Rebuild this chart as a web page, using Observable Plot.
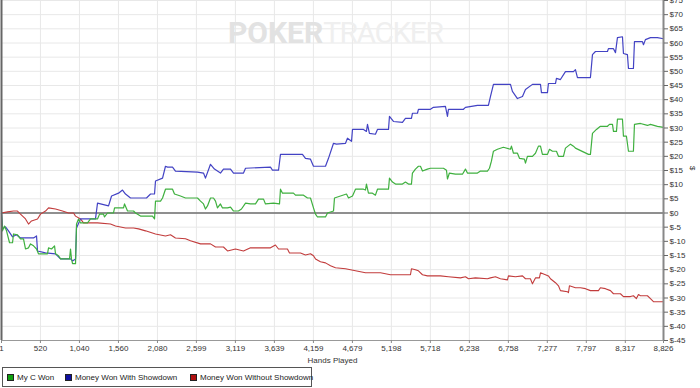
<!DOCTYPE html>
<html>
<head>
<meta charset="utf-8">
<script src="https://cdn.jsdelivr.net/npm/d3@7"></script>
<script src="https://cdn.jsdelivr.net/npm/@observablehq/plot@0.6"></script>
<style>
  html, body { margin: 0; padding: 0; background: white; }
  #wrap { position: relative; width: 700px; height: 388px; overflow: hidden; font-family: "Liberation Sans", Arial, sans-serif; }
  #chart { position: absolute; left: 0; top: 0; }
  #wm { position: absolute; left: 228px; top: 18px; font-family: Roboto, sans-serif; font-size: 30px; line-height: 30px; white-space: nowrap; }
  #wm .a { color: #e2e2e2; font-weight: bold; }
  #wm .b { color: #efefef; letter-spacing: -1.5px; }
  #legend { position: absolute; left: 2px; top: 367px; width: 308px; height: 18px; border: 1px solid #555; background: white; font-size: 8px; color: #222; }
  #legend .it { position: absolute; top: 5px; white-space: nowrap; line-height: 9px; }
  #legend .sw { display: inline-block; width: 5px; height: 5px; border: 1px solid #222; margin-right: 3px; vertical-align: -1px; }
</style>
</head>
<body>
<div id="wrap">
  <div id="chart"></div>
  <div id="wm"><span class="a">POKER</span><span class="b">TRACKER</span></div>
  <div id="legend"></div>
</div>
<script>
// Hands played tick labels (x axis)
const handTicks = [1, 520, 1040, 1560, 2080, 2599, 3119, 3639, 4159, 4679, 5198, 5718, 6238, 6758, 7277, 7797, 8317, 8826];
// Dollar ticks (right axis)
const dollarTicks = [-45, -40, -35, -30, -25, -20, -15, -10, -5, 0, 5, 10, 15, 20, 25, 30, 35, 40, 45, 50, 55, 60, 65, 70, 75];

const seriesNames = ["My C Won", "Money Won With Showdown", "Money Won Without Showdown"];
const seriesColors = ["#3fb03f", "#4343c4", "#c23c3c"];
const legendColors = ["#10a010", "#1010a0", "#b01010"];

// [hand, $]
const myCWon = [[1,0],[14,-6.3],[41,-4.6],[68,-6.3],[108,-10.5],[148,-10.5],[161,-7.4],[214,-7.7],[254,-9.1],[294,-9.1],[321,-12.7],[361,-12.3],[388,-10.9],[428,-11.6],[468,-12.7],[494,-14.4],[614,-14.4],[628,-12.3],[668,-12.7],[708,-11.6],[721,-14.4],[761,-15.1],[788,-16.2],[908,-16.2],[921,-12.7],[934,-16.2],[948,-17.9],[988,-17.9],[1001,-3.9],[1028,-2.1],[1054,-3.5],[1148,-3.5],[1188,-2.1],[1281,-2.1],[1308,-0.4],[1361,-0.4],[1374,-1.4],[1414,0],[1494,0],[1508,1.8],[1628,1.8],[1641,3.2],[1681,0.7],[1761,0.7],[1788,0],[1854,-1.1],[2014,-1.1],[2041,-2.1],[2054,4.2],[2121,4.2],[2148,5.3],[2187,8.4],[2281,8.4],[2307,6.7],[2387,6.0],[2454,5.3],[2614,5.3],[2654,4.2],[2694,3.2],[2720,1.4],[2747,2.5],[2787,5.3],[2827,5.3],[2854,4.2],[2880,1.8],[2920,3.2],[2947,1.8],[3014,1.8],[3054,2.1],[3094,0.7],[3160,0.7],[3200,1.4],[3254,3.5],[3320,3.2],[3387,3.2],[3427,4.9],[3494,4.9],[3520,3.2],[3627,3.5],[3707,3.2],[3720,8.4],[3747,7.0],[3893,7.0],[3920,6.3],[4027,6.3],[4080,5.3],[4120,5.3],[4160,1.8],[4187,-0.4],[4213,-1.4],[4320,-1.4],[4347,0],[4427,0.7],[4440,5.3],[4520,6.0],[4600,6.7],[4627,5.3],[4680,6.0],[4720,8.4],[4827,8.4],[4853,8.1],[4866,10.2],[4893,7.0],[4946,7.0],[4986,6.3],[5013,8.4],[5160,8.4],[5173,12.3],[5213,10.9],[5253,10.2],[5346,10.2],[5386,10.9],[5426,10.2],[5466,10.2],[5479,14.1],[5519,15.5],[5559,16.5],[5586,16.5],[5613,14.8],[5679,15.5],[5719,15.8],[5893,15.8],[5933,15.1],[5946,12.0],[5972,14.1],[6052,13.7],[6146,13.7],[6186,15.5],[6212,14.1],[6346,14.1],[6386,14.8],[6479,14.8],[6506,15.8],[6532,18.3],[6559,21.8],[6612,22.5],[6692,23.2],[6786,22.5],[6799,23.6],[6826,21.1],[6879,21.1],[6906,19.3],[6972,19.0],[6986,17.6],[7012,20.0],[7079,20.0],[7119,21.1],[7159,23.6],[7186,23.6],[7212,20.7],[7279,20.7],[7306,22.5],[7346,21.8],[7399,21.8],[7426,20.0],[7492,20.0],[7519,22.9],[7586,24.3],[7626,23.6],[7652,22.9],[7826,20.7],[7852,20.7],[7879,28.1],[7932,29.5],[7985,30.6],[8079,30.6],[8106,31.3],[8146,31.3],[8159,28.8],[8199,28.8],[8212,33.1],[8279,33.1],[8292,27.1],[8332,27.1],[8359,21.8],[8425,21.8],[8439,31.3],[8519,31.6],[8612,30.9],[8652,31.3],[8745,30.6],[8826,30.2]];

const wonWithShowdown = [[1,0],[14,-5.6],[54,-4.9],[94,-6.3],[148,-8.4],[201,-7.7],[254,-8.8],[428,-8.8],[468,-8.1],[481,-13.4],[588,-14.1],[721,-14.4],[788,-16.2],[921,-16.2],[948,-16.9],[988,-16.2],[1001,-5.3],[1054,-2.1],[1254,-2.1],[1281,3.5],[1428,2.5],[1468,6.0],[1561,7.0],[1614,8.1],[1654,6.7],[1721,5.3],[1934,5.3],[1988,6.7],[2041,6.7],[2054,11.3],[2148,12.3],[2187,16.5],[2214,16.2],[2281,16.2],[2320,14.8],[2614,14.4],[2694,14.1],[2720,12.3],[2787,17.2],[2840,15.5],[2920,14.1],[2960,15.5],[3054,15.5],[3094,14.1],[3227,14.1],[3254,15.8],[3587,16.2],[3614,15.1],[3694,15.1],[3720,20.7],[4013,20.7],[4053,19.3],[4120,19.0],[4160,16.5],[4320,16.5],[4360,19.3],[4427,24.6],[4467,24.3],[4587,24.6],[4613,26.4],[4667,25.3],[4680,29.5],[4827,29.5],[4866,28.8],[4880,31.3],[4906,28.1],[4986,27.8],[5013,29.5],[5160,29.5],[5173,34.1],[5226,32.3],[5346,32.0],[5386,33.4],[5466,33.4],[5479,35.2],[5546,35.2],[5559,36.6],[5719,36.6],[5759,37.3],[5919,37.6],[5946,34.1],[5959,36.6],[6159,36.6],[6186,37.3],[6346,38.0],[6492,38.0],[6519,41.1],[6559,45.4],[6786,45.4],[6812,42.9],[6879,40.4],[6946,41.1],[6986,43.6],[7079,45.4],[7186,45.4],[7199,42.5],[7279,42.5],[7292,45.7],[7386,45.7],[7399,47.5],[7452,47.1],[7519,49.9],[7626,49.9],[7652,50.6],[7679,47.8],[7852,47.8],[7879,55.9],[7919,57.0],[8079,57.0],[8092,58.0],[8159,58.0],[8186,56.6],[8212,61.9],[8279,62.2],[8292,56.3],[8345,55.9],[8359,51.0],[8425,51.0],[8439,60.5],[8545,60.5],[8559,59.4],[8585,61.2],[8652,61.9],[8745,61.9],[8826,61.5]];

const wonWithoutShowdown = [[1,0],[81,0.4],[161,0.7],[214,0.7],[254,-0.4],[321,-2.1],[361,-3.9],[401,-2.8],[481,-2.1],[521,-0.4],[588,0.7],[628,1.8],[721,1.4],[814,0.7],[894,0],[961,0],[988,-1.1],[1054,-2.1],[1094,-3.5],[1281,-3.5],[1454,-3.9],[1521,-4.6],[1654,-5.3],[1761,-5.3],[1828,-5.6],[1921,-6.3],[2054,-7.4],[2187,-8.1],[2254,-7.7],[2320,-8.8],[2454,-9.1],[2520,-9.8],[2654,-10.9],[2787,-10.9],[2854,-12.0],[2960,-12.0],[3014,-13.4],[3120,-12.7],[3227,-13.4],[3320,-12.3],[3587,-12.3],[3653,-11.3],[3694,-12.7],[3813,-12.7],[3840,-14.1],[3987,-14.1],[4053,-14.8],[4120,-14.4],[4160,-15.1],[4187,-16.2],[4253,-17.2],[4320,-17.6],[4387,-18.6],[4453,-19.3],[4587,-19.7],[4720,-20.4],[4853,-21.1],[5053,-21.1],[5186,-21.8],[5453,-21.8],[5466,-19.7],[5519,-20.0],[5559,-20.4],[5613,-21.8],[5679,-22.2],[5852,-22.2],[5959,-22.5],[6119,-22.9],[6186,-22.5],[6226,-23.2],[6319,-22.9],[6479,-23.2],[6519,-22.9],[6586,-22.5],[6652,-23.2],[6746,-23.6],[6759,-22.2],[6852,-22.5],[6946,-22.2],[6986,-23.2],[7052,-23.2],[7079,-25.0],[7119,-22.9],[7172,-22.9],[7186,-21.1],[7252,-21.8],[7292,-22.2],[7319,-23.2],[7386,-24.6],[7426,-25.7],[7452,-27.4],[7546,-27.8],[7559,-28.1],[7572,-25.7],[7652,-26.4],[7719,-26.4],[7786,-26.7],[7852,-27.4],[7959,-27.4],[7985,-26.4],[8052,-26.7],[8119,-27.4],[8159,-28.5],[8252,-28.5],[8292,-29.5],[8385,-29.5],[8425,-29.2],[8465,-30.2],[8492,-28.8],[8519,-29.2],[8612,-29.2],[8652,-30.2],[8692,-31.3],[8826,-31.3]];

const chart = Plot.plot({
  width: 700,
  height: 366,
  marginLeft: 1,
  marginRight: 37,
  marginTop: 0,
  marginBottom: 26,
  style: { fontFamily: '"Liberation Sans", Arial, sans-serif', fontSize: "8px", color: "#333", background: "white" },
  x: { domain: [1, 8826] },
  y: { domain: [-45, 75] },
  marks: [
    Plot.gridX(handTicks, { stroke: "#e8e8e8", strokeOpacity: 1 }),
    Plot.gridY(dollarTicks, { stroke: "#e8e8e8", strokeOpacity: 1 }),
    Plot.ruleY([0], { stroke: "#6e6e6e", strokeWidth: 1.5 }),
    Plot.line(wonWithoutShowdown, { x: d => d[0], y: d => d[1], stroke: seriesColors[2], strokeWidth: 1.1 }),
    Plot.line(wonWithShowdown, { x: d => d[0], y: d => d[1], stroke: seriesColors[1], strokeWidth: 1.2 }),
    Plot.line(myCWon, { x: d => d[0], y: d => d[1], stroke: seriesColors[0], strokeWidth: 1.2 }),
    Plot.ruleX([1], { stroke: "#666", strokeWidth: 2 }),
    Plot.ruleX([8826], { stroke: "#888", strokeWidth: 2 }),
    Plot.ruleY([-45], { stroke: "#999", strokeWidth: 1 }),
    Plot.axisX(handTicks, { tickFormat: d3.format(","), tickSize: 3, tickPadding: 2, label: null, stroke: "#888", fill: "#333" }),
    Plot.axisY(dollarTicks, { anchor: "right", tickFormat: d => "$" + d, tickSize: 4, tickPadding: 2, label: null, stroke: "#666", fill: "#333" }),
    Plot.text(["Hands Played"], { frameAnchor: "bottom", dy: 20, lineAnchor: "middle", fill: "#333" }),
    Plot.text(["$"], { frameAnchor: "right", dx: 29, rotate: 90, fill: "#333" })
  ]
});
document.getElementById("chart").appendChild(chart);

const legend = document.getElementById("legend");
const itemX = [4, 62, 187];
seriesNames.forEach((name, i) => {
  const it = document.createElement("div");
  it.className = "it";
  it.style.left = itemX[i] + "px";
  const sw = document.createElement("span");
  sw.className = "sw";
  sw.style.background = legendColors[i];
  it.appendChild(sw);
  it.appendChild(document.createTextNode(name));
  legend.appendChild(it);
});
</script>
</body>
</html>
